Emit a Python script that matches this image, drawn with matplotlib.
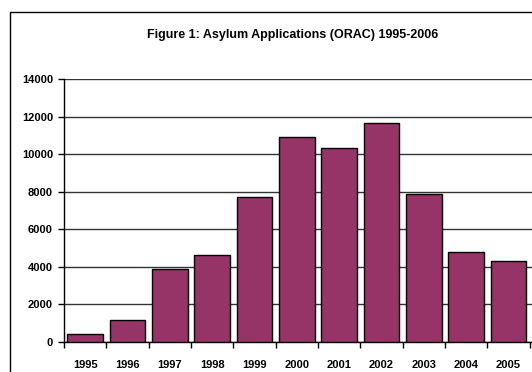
import matplotlib.pyplot as plt
from matplotlib.patches import Rectangle
import numpy as np

plt.rcParams['font.family'] = ['Liberation Sans', 'DejaVu Sans']
plt.rcParams['font.weight'] = 'bold'

years = ["1995", "1996", "1997", "1998", "1999", "2000", "2001", "2002", "2003", "2004", "2005", "2006"]
applications = [424, 1179, 3883, 4626, 7724, 10938, 10325, 11634, 7900, 4766, 4323, 4314]
y_ticks = [0, 2000, 4000, 6000, 8000, 10000, 12000, 14000]

W, H = 532, 372
fig = plt.figure(figsize=(W / 100, H / 100), dpi=100)

# outer chart frame (the picture is cropped on the right and bottom)
fig.patches.append(Rectangle((10 / W, -0.1), 1.0, 1 - 12 / H + 0.1, transform=fig.transFigure,
                             fill=False, edgecolor='black', linewidth=1.0))

ax = fig.add_axes([64 / W, 30 / H, 508 / W, 263 / H])
x = np.arange(len(years))
ax.bar(x, applications, width=0.85, color='#963467', edgecolor='black', linewidth=1.0, zorder=3)

ax.set_xlim(-0.5, len(years) - 0.5)
ax.set_ylim(0, 14000)
ax.set_yticks(y_ticks)
ax.set_yticklabels([str(v) for v in y_ticks], fontsize=8, fontweight='bold')
ax.set_xticks(x)
ax.set_xticklabels(years, fontsize=8, fontweight='bold')
ax.set_xticks(np.arange(len(years) + 1) - 0.5, minor=True)
ax.tick_params(axis='x', which='major', length=0, pad=13)
ax.tick_params(axis='x', which='minor', length=4, direction='out', width=1)
ax.tick_params(axis='y', length=4, direction='out', width=1, pad=4)

ax.grid(axis='y', color='#333333', linewidth=1.0, zorder=0)
for s in ['top', 'right']:
    ax.spines[s].set_visible(False)
ax.spines['left'].set_linewidth(1.0)
ax.spines['bottom'].set_linewidth(1.0)

fig.text(293 / W, 1 - 35 / H, "Figure 1: Asylum Applications (ORAC) 1995-2006",
         ha='center', va='center', fontsize=9, fontweight='bold')

fig.savefig("out.png", dpi=100)
